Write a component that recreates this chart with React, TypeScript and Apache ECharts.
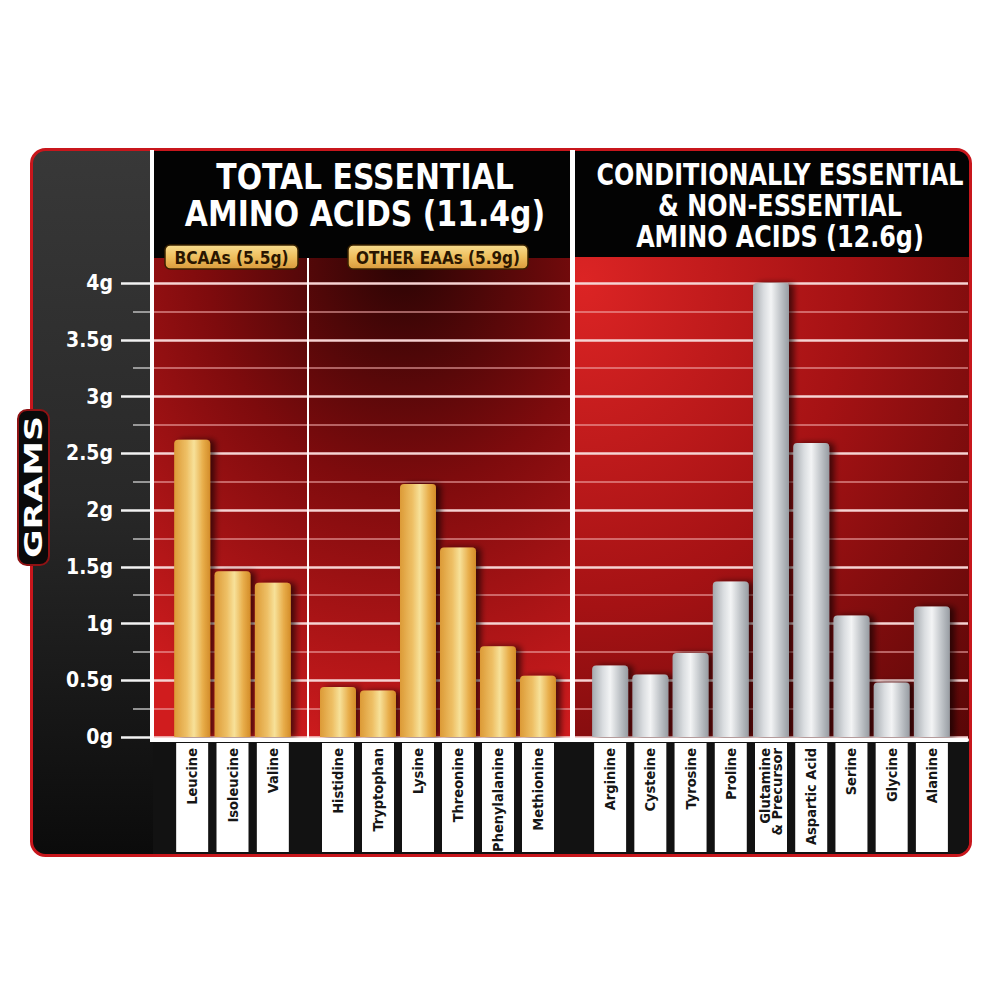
import React, { useEffect, useRef } from 'react';
import * as echarts from 'echarts';

// ---- data ----
const yMin = 0;
const yMax = 4;
const yInterval = 0.5;
const bcaaNames = ['Leucine', 'Isoleucine', 'Valine'];
const bcaaValues = [2.62, 1.46, 1.36];
const otherNames = ['Histidine', 'Tryptophan', 'Lysine', 'Threonine', 'Phenylalanine', 'Methionine'];
const otherValues = [0.44, 0.41, 2.23, 1.67, 0.8, 0.54];
const neNames = ['Arginine', 'Cysteine', 'Tyrosine', 'Proline', 'Glutamine\n& Precursor', 'Aspartic Acid', 'Serine', 'Glycine', 'Alanine'];
const neValues = [0.63, 0.55, 0.74, 1.37, 4.0, 2.59, 1.07, 0.48, 1.15];
const titleLeft = ['TOTAL ESSENTIAL', 'AMINO ACIDS (11.4g)'];
const titleRight = ['CONDITIONALLY ESSENTIAL', '& NON-ESSENTIAL', 'AMINO ACIDS (12.6g)'];
const badgeLeft = 'BCAAs (5.5g)';
const badgeRight = 'OTHER EAAs (5.9g)';
const axisTitle = 'GRAMS';

const FONT = "'Liberation Sans Narrow', 'DejaVu Sans Condensed', 'Arial Narrow', sans-serif";

export default function App() {
  const ref = useRef<HTMLDivElement>(null);
  useEffect(() => {
    const chart = echarts.init(ref.current as HTMLDivElement, null, { renderer: 'svg' });
    const G = echarts.graphic;

    const gold = new G.LinearGradient(0, 0, 1, 0, [
      { offset: 0, color: '#dc9a36' },
      { offset: 0.35, color: '#eec066' },
      { offset: 0.55, color: '#f7e199' },
      { offset: 0.8, color: '#e8ad4a' },
      { offset: 1, color: '#d38c28' },
    ]);
    const silver = new G.LinearGradient(0, 0, 1, 0, [
      { offset: 0, color: '#a4a9ae' },
      { offset: 0.3, color: '#dadde0' },
      { offset: 0.5, color: '#f3f4f5' },
      { offset: 0.75, color: '#c3c7cb' },
      { offset: 1, color: '#979ca2' },
    ]);

    const plotTop = 283;
    const plotBottom = 263;
    const bandTop = 743;
    const bandH = 109;
    const barGrids = [
      { left: 172, width: 121, names: bcaaNames, values: bcaaValues, fill: gold },
      { left: 318, width: 240, names: otherNames, values: otherValues, fill: gold },
      { left: 590, width: 362, names: neNames, values: neValues, fill: silver },
    ];

    const grid: any[] = [{ left: 153, right: 32, top: plotTop, bottom: plotBottom }];
    const xAxis: any[] = [{ type: 'value', gridIndex: 0, show: false, min: 0, max: 1 }];
    const yAxis: any[] = [
      {
        type: 'value',
        gridIndex: 0,
        min: yMin,
        max: yMax,
        interval: yInterval,
        axisLine: { show: false },
        axisTick: { show: true, length: 32, lineStyle: { color: '#f2f2f2', width: 2.5 } },
        minorTick: { show: true, splitNumber: 2, length: 20, lineStyle: { color: '#bdbdbd', width: 1.5 } },
        axisLabel: {
          formatter: (v: number) => `${v}g`,
          color: '#ffffff',
          fontSize: 21,
          fontWeight: 'bold',
          fontFamily: FONT,
          margin: 40,
        },
        splitLine: { show: true, lineStyle: { color: '#f6d2d2', width: 2.5 } },
        minorSplitLine: { show: true, lineStyle: { color: 'rgba(240,170,170,0.75)', width: 1.5 } },
      },
    ];
    const series: any[] = [];

    barGrids.forEach((bg, i) => {
      const gi = i + 1;
      grid.push({ left: bg.left, width: bg.width, top: plotTop, bottom: plotBottom });
      xAxis.push({
        type: 'category',
        gridIndex: gi,
        data: bg.names,
        z: 10,
        axisLine: { show: false },
        axisTick: { show: false },
        axisLabel: {
          interval: 0,
          rotate: 90,
          margin: 11,
          color: '#161616',
          fontSize: 14.5,
          lineHeight: 12.5,
          fontWeight: 'bold',
          fontFamily: FONT,
        },
      });
      yAxis.push({ type: 'value', gridIndex: gi, min: yMin, max: yMax, show: false });
      series.push({
        type: 'bar',
        xAxisIndex: gi,
        yAxisIndex: gi,
        data: bg.values,
        barWidth: 36,
        z: 3,
        itemStyle: {
          color: bg.fill,
          borderRadius: [4, 4, 0, 0],
          shadowColor: 'rgba(0,0,0,0.6)',
          shadowBlur: 6,
          shadowOffsetX: 5,
        },
      });
    });

    barGrids.forEach((bg, i) => {
      const gi = i + 4;
      grid.push({ left: bg.left, width: bg.width, top: bandTop, height: bandH });
      xAxis.push({ type: 'category', gridIndex: gi, data: bg.names, show: false });
      yAxis.push({ type: 'value', gridIndex: gi, min: 0, max: 1, show: false });
      series.push({
        type: 'bar',
        xAxisIndex: gi,
        yAxisIndex: gi,
        data: bg.names.map(() => 1),
        barWidth: 32,
        silent: true,
        z: 1,
        itemStyle: { color: '#ffffff' },
      });
    });

    const whiteRect = (x: number, y: number, w: number, h: number) => ({
      type: 'rect',
      z: 50,
      silent: true,
      shape: { x, y, width: w, height: h },
      style: { fill: '#ffffff' },
    });
    const text = (t: string, x: number, y: number, size: number, extra: any = {}, sx = 1) => ({
      type: 'text',
      z: 100,
      x,
      y,
      scaleX: sx,
      silent: true,
      style: {
        text: t,
        fill: '#ffffff',
        font: `bold ${size}px ${FONT}`,
        align: 'center',
        verticalAlign: 'middle',
        ...extra,
      },
    });
    const badgeFill = () =>
      new G.LinearGradient(0, 0, 0, 1, [
        { offset: 0, color: '#f8dc8e' },
        { offset: 0.5, color: '#eebf5e' },
        { offset: 1, color: '#d99a3c' },
      ]);

    const graphic: any[] = [
      {
        type: 'rect',
        z: -10,
        silent: true,
        shape: { x: 31.5, y: 149.5, width: 939, height: 706, r: 14 },
        style: {
          fill: new G.LinearGradient(0, 0, 0, 1, [
            { offset: 0, color: '#383838' },
            { offset: 0.5, color: '#282828' },
            { offset: 1, color: '#0b0b0b' },
          ]),
          stroke: '#c8161c',
          lineWidth: 3,
        },
      },
      {
        type: 'rect',
        z: -9,
        silent: true,
        shape: { x: 153, y: 740, width: 816, height: 114, r: [0, 0, 12, 0] },
        style: { fill: '#121212' },
      },
      {
        type: 'rect',
        z: -9,
        silent: true,
        shape: { x: 154, y: 151, width: 416, height: 107 },
        style: { fill: '#030303' },
      },
      {
        type: 'rect',
        z: -9,
        silent: true,
        shape: { x: 575, y: 151, width: 394, height: 106, r: [0, 12, 0, 0] },
        style: { fill: '#030303' },
      },
      {
        type: 'rect',
        z: -9,
        silent: true,
        shape: { x: 154, y: 258, width: 416, height: 482 },
        style: {
          fill: new G.RadialGradient(0.6, 0.0, 1.05, [
            { offset: 0, color: '#2a0404' },
            { offset: 0.45, color: '#7e0b0d' },
            { offset: 1, color: '#d01c1e' },
          ]),
        },
      },
      {
        type: 'rect',
        z: -9,
        silent: true,
        shape: { x: 575, y: 257, width: 394, height: 483 },
        style: {
          fill: new G.RadialGradient(0.02, 0.05, 1.35, [
            { offset: 0, color: '#dc2424' },
            { offset: 0.5, color: '#a51214' },
            { offset: 1, color: '#5a0707' },
          ]),
        },
      },
      whiteRect(150, 150, 4, 592),
      whiteRect(570, 150, 5, 592),
      whiteRect(307, 258, 2, 482),
      { ...whiteRect(150, 738, 819, 4), shape: { x: 150, y: 738, width: 819, height: 4, r: [0, 2, 2, 0] } },
      text(titleLeft[0], 365, 177, 35, {}, 0.95),
      text(titleLeft[1], 365, 214, 35, {}, 0.95),
      text(titleRight[0], 780, 175, 30, {}, 0.885),
      text(titleRight[1], 780, 206, 30, {}, 0.885),
      text(titleRight[2], 780, 237, 30, {}, 0.885),
      {
        type: 'rect',
        z: 90,
        silent: true,
        shape: { x: 165, y: 245, width: 133, height: 24, r: 5 },
        style: { fill: badgeFill(), stroke: '#3a2200', lineWidth: 1.5 },
      },
      text(badgeLeft, 231.5, 257.5, 17.5, { fill: '#2a1600' }, 0.98),
      {
        type: 'rect',
        z: 90,
        silent: true,
        shape: { x: 348, y: 245, width: 180, height: 24, r: 5 },
        style: { fill: badgeFill(), stroke: '#3a2200', lineWidth: 1.5 },
      },
      text(badgeRight, 438, 257.5, 17.5, { fill: '#2a1600' }, 0.97),
      {
        type: 'rect',
        z: 90,
        silent: true,
        shape: { x: 18, y: 410, width: 31, height: 155, r: 9 },
        style: { fill: '#0a0a0a', stroke: '#8e1214', lineWidth: 2 },
      },
      {
        type: 'text',
        z: 100,
        x: 34,
        y: 487,
        rotation: Math.PI / 2,
        scaleX: 1.45,
        silent: true,
        style: {
          text: axisTitle,
          fill: '#ffffff',
          font: `bold 24px 'DejaVu Sans', sans-serif`,
          align: 'center',
          verticalAlign: 'middle',
        },
      },
    ];

    chart.setOption({
      animation: false,
      backgroundColor: '#ffffff',
      grid,
      xAxis,
      yAxis,
      series,
      graphic,
    });
    return () => chart.dispose();
  }, []);
  return (
    <div
      ref={ref}
      style={{ position: 'fixed', left: 0, top: 0, width: 1000, height: 1000, background: '#fff' }}
    />
  );
}
